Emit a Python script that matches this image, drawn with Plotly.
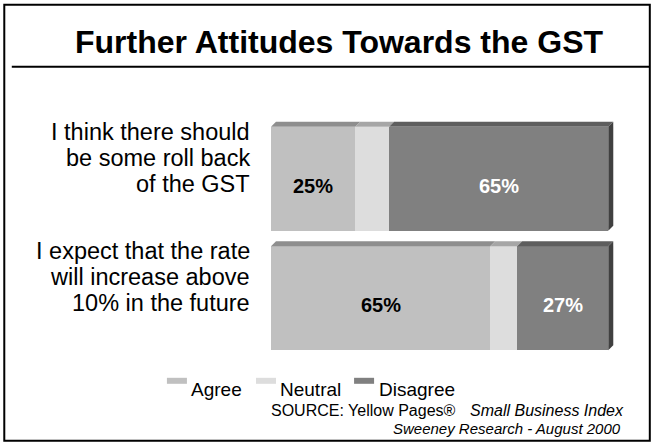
import plotly.graph_objects as go

# ---- data ----
statements = [
    "I think there should<br>be some roll back<br>of the GST",
    "I expect that the rate<br>will increase above<br>10% in the future",
]
agree = [25, 65]
neutral = [10, 8]
disagree = [65, 27]
series_names = ["Agree", "Neutral", "Disagree"]
title_text = "Further Attitudes Towards the GST"
source_main = "SOURCE: Yellow Pages®"
source_index = "Small Business Index"
source_credit = "Sweeney Research - August 2000"

# ---- styling ----
FONT = "Liberation Sans, Arial, sans-serif"
front_colors = ["#C0C0C0", "#DDDDDD", "#808080"]
top_colors = ["#8E8E8E", "#A6A6A6", "#5E5E5E"]
side_color = "#404040"
label_colors = ["black", None, "white"]

W_PX, H_PX = 651, 443
L, T = 271, 107.3
X_MAX = 110
PX_PER_UNIT_X = 3.37
PX_PER_UNIT_Y = 119.5
Y_LO, Y_HI = -0.6, 1.6
PW = X_MAX * PX_PER_UNIT_X
PH = (Y_HI - Y_LO) * PX_PER_UNIT_Y
R = W_PX - L - PW
B = H_PX - T - PH

BAR_W = 0.87
DX = 5 / PX_PER_UNIT_X      # depth offset (x units)
DY = 5 / PX_PER_UNIT_Y      # depth offset (y units)


def px_x(px):
    return (px - L) / PW


def px_y(py):
    return 1 - (py - T) / PH


ypos = list(range(len(statements)))
values = [agree, neutral, disagree]

fig = go.Figure()
for name, vals, col in zip(series_names, values, front_colors):
    fig.add_trace(go.Bar(
        y=ypos, x=vals, name=name, orientation="h", width=BAR_W,
        marker=dict(color=col, line=dict(width=0)), showlegend=False,
        hoverinfo="skip",
    ))

shapes = []
annotations = []

# 3-D top faces and side face for each bar
for i, y in enumerate(ypos):
    y_top = y - BAR_W / 2
    y_bot = y + BAR_W / 2
    start = 0
    for s, vals in enumerate(values):
        x0, x1 = start, start + vals[i]
        shapes.append(dict(
            type="path", xref="x", yref="y", layer="above",
            path=f"M {x0},{y_top} L {x0 + DX},{y_top - DY} L {x1 + DX},{y_top - DY} L {x1},{y_top} Z",
            fillcolor=top_colors[s], line=dict(width=0),
        ))
        if label_colors[s]:
            annotations.append(dict(
                x=(x0 + x1) / 2, y=y, xref="x", yref="y", text=f"<b>{vals[i]}%</b>",
                showarrow=False, yshift=-7,
                font=dict(family=FONT, size=20, color=label_colors[s]),
            ))
        start = x1
    shapes.append(dict(
        type="path", xref="x", yref="y", layer="above",
        path=f"M {start},{y_top} L {start + DX},{y_top - DY} L {start + DX},{y_bot - DY} L {start},{y_bot} Z",
        fillcolor=side_color, line=dict(width=0),
    ))

    # statement text, right-aligned beside the bar
    for k, line in enumerate(statements[i].split("<br>")):
        annotations.append(dict(
            x=px_x(252), y=y, xref="paper", yref="y", text=line,
            xanchor="right", yanchor="middle", showarrow=False,
            yshift=47 - 26 * k,
            font=dict(family=FONT, size=23.5, color="black"),
        ))

# outer frame and title rule
shapes.append(dict(type="rect", xref="paper", yref="paper",
                   x0=px_x(4.5), x1=px_x(649.5), y0=px_y(441), y1=px_y(5),
                   line=dict(color="black", width=2)))
shapes.append(dict(type="line", xref="paper", yref="paper",
                   x0=px_x(12), x1=px_x(649.5), y0=px_y(67), y1=px_y(67),
                   line=dict(color="black", width=2)))

annotations.append(dict(
    x=px_x(339), y=px_y(42), xref="paper", yref="paper", text=f"<b>{title_text}</b>",
    showarrow=False, xanchor="center", yanchor="middle",
    font=dict(family=FONT, size=32, color="black"),
))

# legend
legend_sq = [167, 256, 354]
legend_tx = [189, 278, 377]
for name, col, sx, tx in zip(series_names, front_colors, legend_sq, legend_tx):
    shapes.append(dict(type="rect", xref="paper", yref="paper",
                       x0=px_x(sx), x1=px_x(sx + 20), y0=px_y(384), y1=px_y(378),
                       fillcolor=col, line=dict(width=0)))
    annotations.append(dict(
        x=px_x(tx), y=px_y(390), xref="paper", yref="paper", text=name,
        showarrow=False, xanchor="left", yanchor="middle",
        font=dict(family=FONT, size=19, color="black"),
    ))

# source notes
annotations.append(dict(x=px_x(269), y=px_y(411), xref="paper", yref="paper",
                        text=source_main, showarrow=False, xanchor="left", yanchor="middle",
                        font=dict(family=FONT, size=16, color="black")))
annotations.append(dict(x=px_x(468), y=px_y(411), xref="paper", yref="paper",
                        text=f"<i>{source_index}</i>", showarrow=False, xanchor="left",
                        yanchor="middle", font=dict(family=FONT, size=16, color="black")))
annotations.append(dict(x=px_x(391), y=px_y(429), xref="paper", yref="paper",
                        text=f"<i>{source_credit}</i>", showarrow=False, xanchor="left",
                        yanchor="middle", font=dict(family=FONT, size=15, color="black")))

fig.update_layout(
    width=W_PX, height=H_PX,
    margin=dict(l=L, r=R, t=T, b=B, pad=0),
    barmode="stack", bargap=0,
    paper_bgcolor="white", plot_bgcolor="white",
    xaxis=dict(range=[0, X_MAX], visible=False, fixedrange=True),
    yaxis=dict(range=[Y_HI, Y_LO], visible=False, fixedrange=True),
    shapes=shapes, annotations=annotations,
    showlegend=False,
)

fig.write_html("out.html", config={"displayModeBar": False})
